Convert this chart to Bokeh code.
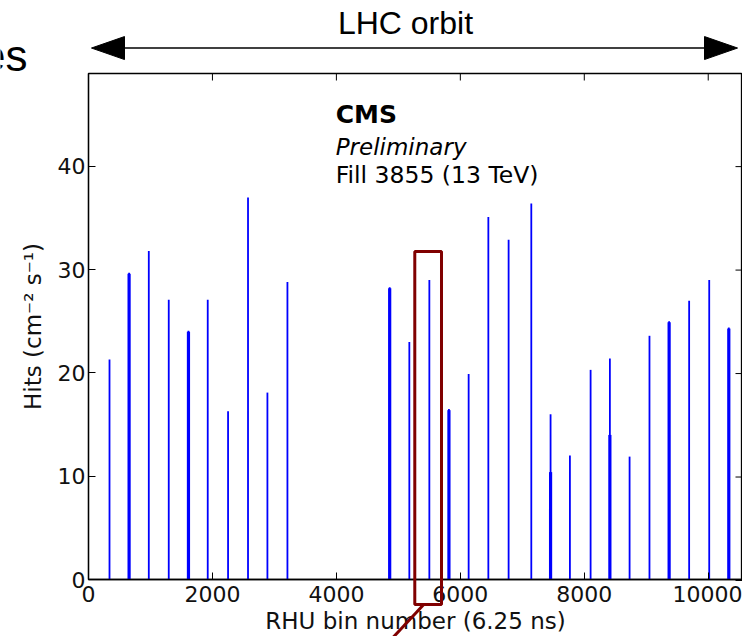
from bokeh.plotting import figure
from bokeh.models import Range1d, FixedTicker, Label, ColumnDataSource, Plot
from bokeh.layouts import column
from bokeh.embed import file_html
from bokeh.resources import INLINE

# ---- data ----
bin_x = [339, 655, 973, 1295, 1613, 1924, 2252, 2574, 2887, 3210,
         4860, 5177, 5500, 5816, 6134, 6452, 6779, 7145, 7456, 7768,
         8102, 8413, 8731, 9052, 9369, 9692, 10016, 10332]
hits = [21.3, 29.7, 31.8, 27.1, 24.1, 27.1, 16.3, 37.0, 18.1, 28.8,
        28.3, 23.0, 29.0, 16.5, 19.9, 35.1, 32.9, 36.4, 16.0, 12.0,
        20.3, 21.4, 11.9, 23.6, 25.0, 27.0, 29.0, 24.4]
# height of the adjacent (second) filled bin of each bunch, 0 if none
hits_next = [0, 29.6, 0, 0, 24.0, 0, 0, 0, 0, 0,
             28.2, 0, 0, 16.4, 0, 0, 0, 0, 10.4, 0,
             0, 14.0, 0, 0, 24.9, 0, 0, 24.3]
zeros = [0] * len(bin_x)

x_ticks = [0, 2000, 4000, 6000, 8000, 10000]
y_ticks = [0, 10, 20, 30, 40]

# ---- layout (pixels) ----
W, H = 742, 636
FRAME_L, FRAME_T, FRAME_B = 88, 73, 580
X_MAX, Y_MAX = 10553, 49.0
XS = (W - FRAME_L) / X_MAX          # px per x unit
YS = (FRAME_B - FRAME_T) / Y_MAX    # px per y unit
OV_X0 = -FRAME_L / XS
OV_Y0 = -(H - FRAME_B) / YS
OV_Y1 = Y_MAX + FRAME_T / YS

# ---- annotation geometry (data coordinates) ----
ORBIT_Y = 51.46
ORBIT_L_TIP, ORBIT_L_BASE = 48, 581
ORBIT_R_BASE, ORBIT_R_TIP = 9940, 10473
HEAD_HALF = 1.11
ORBIT_TEXT_X, ORBIT_TEXT_Y = 5115, 53.9
BOX_X0, BOX_X1, BOX_Y0, BOX_Y1 = 5265, 5696, -2.32, 31.8
LEAD_X0, LEAD_Y0, LEAD_X1, LEAD_Y1 = 5406, -2.35, 4712, -6.8
TEXT_X = 3989
FRAG_X, FRAG_Y = -984, 50.7
TICK_LEN_PX = 7

FONT = "DejaVu Sans"
can_unalign = "frame_align" in Plot.properties()

# ================= main chart =================
p = figure(width=W, height=H, output_backend="svg", toolbar_location=None,
           x_range=Range1d(0, X_MAX), y_range=Range1d(0, Y_MAX),
           min_border_left=FRAME_L, min_border_right=0, min_border_top=FRAME_T,
           min_border_bottom=H - FRAME_B, background_fill_color="white",
           border_fill_color="white")
p.grid.visible = False
p.outline_line_color = "black"
p.outline_line_width = 1.3

src = ColumnDataSource(dict(x=bin_x, y0=zeros, y1=hits))
src2 = ColumnDataSource(dict(x=bin_x, y0=zeros, y1=hits_next))
p.segment(x0="x", y0="y0", x1="x", y1="y1", source=src,
          line_color="#0000ff", line_width=1.8)
p.segment(x0="x", y0="y0", x1="x", y1="y1", source=src2,
          line_color="#0000ff", line_width=3.2)

for ax, ticks in ((p.xaxis[0], x_ticks), (p.yaxis[0], y_ticks)):
    ax.ticker = FixedTicker(ticks=ticks)
    ax.minor_tick_line_color = None
    ax.major_tick_in = TICK_LEN_PX
    ax.major_tick_out = 0
    ax.axis_line_color = "black"
    ax.axis_line_width = 1.3
    ax.major_tick_line_color = "black"
    ax.major_label_text_font = FONT
    ax.major_label_text_font_size = "22px"
    ax.major_label_text_color = "#111111"
    ax.axis_label_text_font = FONT
    ax.axis_label_text_font_size = "23px"
    ax.axis_label_text_font_style = "normal"
    ax.axis_label_text_color = "#111111"

p.xaxis[0].axis_label = "RHU bin number (6.25 ns)"
p.xaxis[0].major_label_standoff = 6
p.xaxis[0].axis_label_standoff = 3
p.yaxis[0].axis_label = "Hits (cm\u207b\u00b2 s\u207b\u00b9)"
p.yaxis[0].major_label_standoff = 3
p.yaxis[0].axis_label_standoff = 9

p.add_layout(Label(x=TEXT_X, y=45.0, text="CMS", text_font=FONT, text_font_style="bold",
                   text_font_size="25px", text_color="black", text_baseline="alphabetic"))
p.add_layout(Label(x=TEXT_X, y=41.9, text="Preliminary", text_font=FONT,
                   text_font_style="italic", text_font_size="23px", text_color="black",
                   text_baseline="alphabetic"))
p.add_layout(Label(x=TEXT_X, y=39.2, text="Fill 3855 (13 TeV)", text_font=FONT,
                   text_font_size="23.5px", text_color="black", text_baseline="alphabetic"))

# ================= overlay (things outside the axes frame) =================
ov = figure(width=W, height=H, output_backend="svg", toolbar_location=None,
            x_range=Range1d(OV_X0 if can_unalign else 0, X_MAX), y_range=Range1d(OV_Y0, OV_Y1),
            x_axis_type=None, y_axis_type=None,
            min_border_left=0, min_border_right=0, min_border_top=0, min_border_bottom=0,
            background_fill_alpha=0, border_fill_alpha=0, outline_line_color=None)
ov.grid.visible = False
ov.margin = (-H, 0, 0, 0)
if can_unalign:
    p.frame_align = False
    ov.frame_align = False

# inward ticks on the top and right spines
n_x, n_y = len(x_ticks), len(y_ticks)
ov.segment(x0=x_ticks, x1=x_ticks, y0=[Y_MAX] * n_x, y1=[Y_MAX - TICK_LEN_PX / YS] * n_x,
           line_color="black", line_width=1)
ov.segment(x0=[X_MAX] * n_y, x1=[X_MAX - TICK_LEN_PX / XS] * n_y, y0=y_ticks, y1=y_ticks,
           line_color="black", line_width=1)

# LHC orbit arrow
ov.segment(x0=[ORBIT_L_BASE], x1=[ORBIT_R_BASE], y0=[ORBIT_Y], y1=[ORBIT_Y],
           line_color="black", line_width=1.5)
ov.patches(xs=[[ORBIT_L_TIP, ORBIT_L_BASE, ORBIT_L_BASE], [ORBIT_R_TIP, ORBIT_R_BASE, ORBIT_R_BASE]],
           ys=[[ORBIT_Y, ORBIT_Y + HEAD_HALF, ORBIT_Y - HEAD_HALF]] * 2,
           fill_color="black", line_color="black", line_width=1)
ov.add_layout(Label(x=ORBIT_TEXT_X, y=ORBIT_TEXT_Y, text="LHC orbit",
                    text_font="Liberation Sans", text_font_size="32px", text_color="black",
                    text_align="center", text_baseline="alphabetic"))

# fragment of the slide title at the left edge
ov.add_layout(Label(x=FRAG_X, y=FRAG_Y, text="es", text_font="Liberation Sans",
                    text_font_size="44px", text_color="black", text_align="right",
                    text_baseline="alphabetic"))

# highlight box + leader line
ov.quad(left=[BOX_X0], right=[BOX_X1], bottom=[BOX_Y0], top=[BOX_Y1],
        fill_color=None, line_color="#800000", line_width=3)
ov.segment(x0=[LEAD_X0], y0=[LEAD_Y0], x1=[LEAD_X1], y1=[LEAD_Y1],
           line_color="#800000", line_width=3)

layout = column(p, ov, spacing=0)
open("out.html", "w").write(file_html(layout, INLINE))
